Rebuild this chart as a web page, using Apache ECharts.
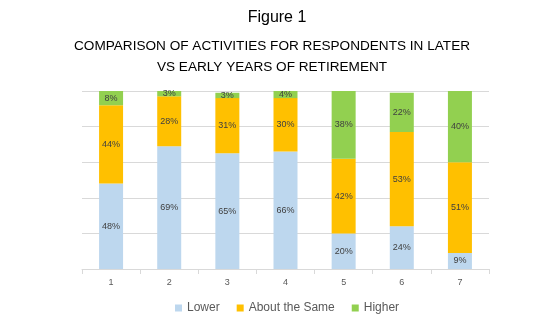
<!DOCTYPE html>
<html><head><meta charset="utf-8">
<script src="https://cdn.jsdelivr.net/npm/echarts@6/dist/echarts.min.js"></script>
<style>html,body{margin:0;padding:0;background:#fff}#c{width:554px;height:331px}</style>
</head><body><div id="c"></div>
<script>
const categories = ['1','2','3','4','5','6','7'];
const lower = [48,69,65,66,20,24,9];
const same = [44,28,31,30,42,53,51];
const higher = [8,3,3,4,38,22,40];
const seriesNames = ['Lower','About the Same','Higher'];
const titleMain = 'Figure 1';
const titleSub = 'COMPARISON OF ACTIVITIES FOR RESPONDENTS IN LATER\nVS EARLY YEARS OF RETIREMENT';

const chart = echarts.init(document.getElementById('c'));
const lbl = {show:true, position:'inside', formatter: p => p.value + '%', color:'#404040', fontSize:9, fontFamily:'Liberation Sans'};
chart.setOption({
  animation:false,
  title:[
    {text:titleMain, left:'center', top:5, textStyle:{fontSize:16, fontWeight:'normal', color:'#000', fontFamily:'Liberation Sans'}},
    {text:titleSub, left:267, textAlign:'center', top:31, textStyle:{fontSize:13.6, fontWeight:'normal', color:'#000', lineHeight:21, fontFamily:'Liberation Sans'}}
  ],
  legend:{top:297, left:170, itemWidth:7, itemHeight:7, itemGap:17, icon:'rect',
    textStyle:{fontSize:12, color:'#595959', fontFamily:'Liberation Sans'}, data:seriesNames},
  grid:{left:82, right:65, top:91, bottom:62},
  xAxis:{type:'category', data:categories,
    axisLine:{lineStyle:{color:'#d9d9d9'}}, axisTick:{show:true, length:5, lineStyle:{color:'#d9d9d9'}},
    axisLabel:{color:'#595959', fontSize:9, margin:9}},
  yAxis:{type:'value', min:0, max:100, interval:20, axisLabel:{show:false}, axisLine:{show:false}, axisTick:{show:false},
    splitLine:{lineStyle:{color:'#d9d9d9'}}},
  series:[
    {name:seriesNames[0], type:'bar', stack:'a', data:lower, barWidth:24, itemStyle:{color:'#BDD7EE'}, label:lbl},
    {name:seriesNames[1], type:'bar', stack:'a', data:same, barWidth:24, itemStyle:{color:'#FFC000'}, label:lbl},
    {name:seriesNames[2], type:'bar', stack:'a', data:higher, barWidth:24, itemStyle:{color:'#92D050'}, label:lbl}
  ]
});
</script></body></html>
